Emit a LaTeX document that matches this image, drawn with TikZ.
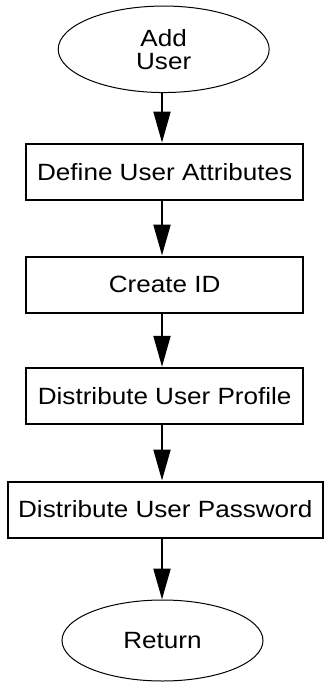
\documentclass[tikz,border=0pt]{standalone}
\usepackage{fontspec}
\setmainfont[FakeStretch=1.11]{Liberation Sans}
\usetikzlibrary{shapes.geometric,arrows.meta}
\begin{document}
\begin{tikzpicture}[x=1pt,y=1pt,
  every node/.style={font=\fontsize{23.5}{24}\selectfont, inner sep=0pt, align=center},
  terminal/.style={ellipse, draw, line width=1pt},
  stepbox/.style={rectangle, draw, line width=2pt, minimum height=56pt},
  flow/.style={line width=2pt, -{Triangle[length=31pt,width=17pt]}}]
  \useasboundingbox (0,0) rectangle (325,-682);

  % start and end terminals
  \node[terminal, minimum width=211pt, minimum height=86.5pt] (add) at (163.7,-49.3) {Add\\[-1pt]User};
  \node[terminal, minimum width=201pt, minimum height=81pt] (ret) at (162.5,-640.5) {Return};

  % process steps
  \node[stepbox, minimum width=277pt] (define) at (164.7,-171.6) {Define User Attributes};
  \node[stepbox, minimum width=277pt] (create) at (164.7,-284.5) {Create ID};
  \node[stepbox, minimum width=277pt] (profile) at (164.7,-395.8) {Distribute User Profile};
  \node[stepbox, minimum width=315.5pt] (password) at (165.3,-509.5) {Distribute User Password};

  % vertical axis shared by all connectors
  \coordinate (axis) at (162,0);

  \draw[flow] (add.south -| axis) -- (define.north -| axis);
  \draw[flow] (define.south -| axis) -- (create.north -| axis);
  \draw[flow] (create.south -| axis) -- (profile.north -| axis);
  \draw[flow] (profile.south -| axis) -- (password.north -| axis);
  \draw[flow] (password.south -| axis) -- (ret.north -| axis);
\end{tikzpicture}
\end{document}
